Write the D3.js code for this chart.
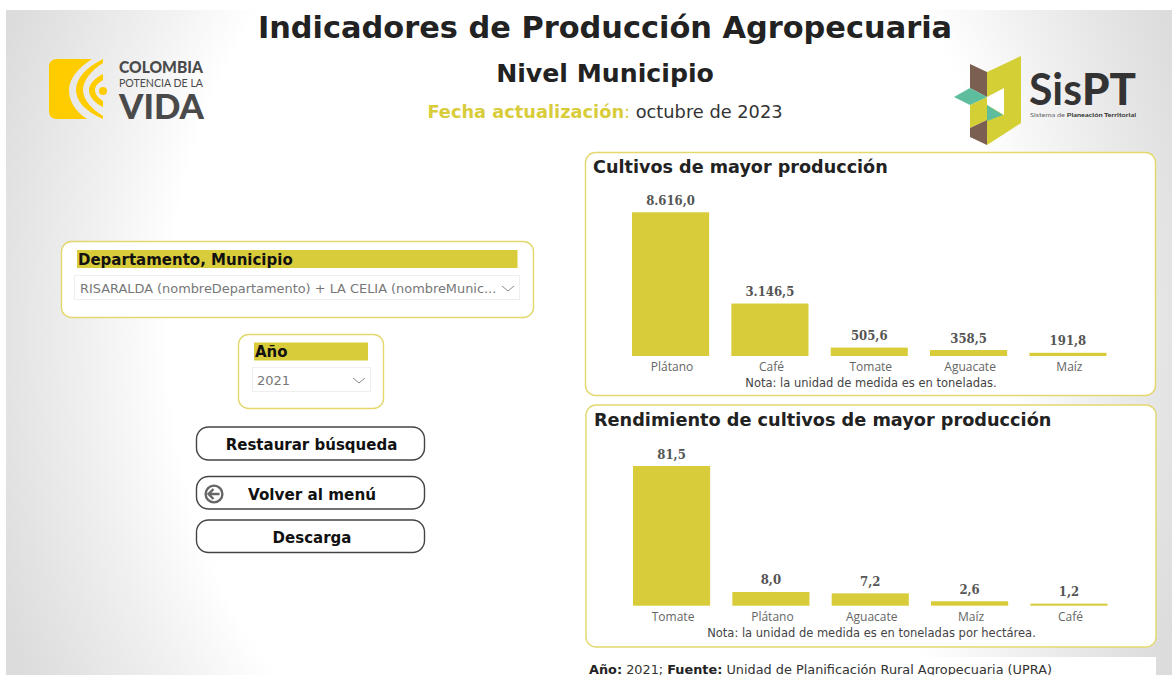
<!DOCTYPE html>
<html><head><meta charset="utf-8">
<script src="https://cdn.jsdelivr.net/npm/d3@7/dist/d3.min.js"></script>
<style>
html,body{margin:0;padding:0;background:#fff;overflow:hidden}
svg{display:block}
text{font-family:"DejaVu Sans",sans-serif}
</style></head><body>
<svg id="c" width="1172" height="675"></svg>
<script>
const prodCategories = ["Plátano","Café","Tomate","Aguacate","Maíz"];
const prodValues = [8616.0,3146.5,505.6,358.5,191.8];
const rendCategories = ["Tomate","Plátano","Aguacate","Maíz","Café"];
const rendValues = [81.5,8.0,7.2,2.6,1.2];

const YEL="#d9cc3a", BORDER="#e3d86e", DARK="#222222";
const svg=d3.select("#c");
const defs=svg.append("defs");
const g=defs.append("radialGradient").attr("id","bg").attr("gradientUnits","userSpaceOnUse")
  .attr("cx",0).attr("cy",0).attr("r",1)
  .attr("gradientTransform","translate(590 330) scale(630 775)");
[[0,"#fff"],[0.667,"#fff"],[0.8,"#f0f0f0"],[0.927,"#e3e3e3"],[1,"#dcdcdc"]].forEach(([o,c])=>g.append("stop").attr("offset",o).attr("stop-color",c));
svg.append("rect").attr("x",6).attr("y",10).attr("width",1166).attr("height",665).attr("fill","url(#bg)");

function txt(x,y,s,size,opt={}){
  return svg.append("text").attr("x",x).attr("y",y).text(s).attr("font-size",size)
   .attr("font-weight",opt.w||"normal").attr("fill",opt.f||DARK).attr("text-anchor",opt.a||"start")
   .style("font-family",opt.fam||null);
}
txt(605,38,"Indicadores de Producción Agropecuaria",30.4,{w:"bold",a:"middle"});
txt(605,82,"Nivel Municipio",25.2,{w:"bold",a:"middle"});
const fecha=svg.append("text").attr("x",605).attr("y",118).attr("text-anchor","middle").attr("font-size",17.8);
fecha.append("tspan").attr("font-weight","bold").attr("fill",YEL).text("Fecha actualización");
fecha.append("tspan").attr("fill",YEL).text(": ");
fecha.append("tspan").attr("fill","#333").text("octubre de 2023");

// Colombia logo
const logo=svg.append("g").attr("fill","#ffcc00");
logo.append("path").attr("d","M57 59H92C78 68 69 79 69 90C69 101 75 111 87 119H57Q49 119 49 111V67Q49 59 57 59Z");
logo.append("path").attr("d","M103 59C85 68 76 79 76 90C76 101 85 111 103 119V116C92 109 83 100 83 90C83 80 92 70 103 63Z");
logo.append("path").attr("d","M103 74C95 78 89 84 89 90C89 97 95 103 103 107V101C98 98 95 94 95 90C95 86 98 83 103 80Z");
logo.append("circle").attr("cx",103).attr("cy",91).attr("r",4);
const LG="#4a4a4a";
txt(119,72.5,"COLOMBIA",16,{w:"900",f:LG,fam:"Lato,sans-serif"}).attr("textLength",84).attr("lengthAdjust","spacingAndGlyphs");
txt(119,87,"POTENCIA DE LA",11.5,{f:LG,fam:"Lato,sans-serif"}).attr("textLength",84).attr("lengthAdjust","spacingAndGlyphs");
txt(119,119,"VIDA",34,{w:"900",f:LG,fam:"Lato,sans-serif"}).attr("textLength",85).attr("lengthAdjust","spacingAndGlyphs");

// SisPT logo
const sp=svg.append("g");
sp.append("path").attr("fill","#d5cf36").attr("d","M987 72L1021 56V123L987 145Z");
sp.append("path").attr("fill","#d5cf36").attr("d","M970 105L987 97V120L970 128Z");
sp.append("path").attr("fill","#fff").attr("d","M987 97L1004 88V115L987 105Z");
sp.append("path").attr("fill","#7b5f50").attr("d","M970 64L987 72V97L970 88Z");
sp.append("path").attr("fill","#7b5f50").attr("d","M970 128L987 120V145L970 137Z");
sp.append("path").attr("fill","#5dbd9d").attr("d","M954 97L970 88L987 97L970 105Z");
sp.append("path").attr("fill","#5dbd9d").attr("d","M987 105L1003 115L987 121Z");
txt(1029,105,"Sis",43,{f:"#333",fam:"Lato,sans-serif",w:"700"}).attr("textLength",53).attr("lengthAdjust","spacingAndGlyphs");
txt(1082,105,"PT",43,{f:"#333",fam:"Lato,sans-serif",w:"900"}).attr("textLength",54).attr("lengthAdjust","spacingAndGlyphs");
const s2=svg.append("text").attr("x",1030).attr("y",116.5).attr("font-size",6.2).attr("fill","#666").attr("textLength",106).attr("lengthAdjust","spacingAndGlyphs").style("font-family","Lato,sans-serif");
s2.append("tspan").text("Sistema de ");
s2.append("tspan").attr("font-weight","bold").attr("fill","#333").text("Planeación Territorial");

function card(x,y,w,h,stroke=BORDER,r=10){
  return svg.append("rect").attr("x",x+.5).attr("y",y+.5).attr("width",w).attr("height",h).attr("rx",r).attr("fill","#fff").attr("stroke",stroke).attr("stroke-width",1.4);
}
function chevron(x,y){
  svg.append("path").attr("d",`M${x} ${y}l6 5l6 -5`).attr("fill","none").attr("stroke","#8a8a8a").attr("stroke-width",1);
}
// slicers
card(61,241,472,76);
svg.append("rect").attr("x",77).attr("y",250).attr("width",440.5).attr("height",18).attr("fill",YEL);
txt(78,265,"Departamento, Municipio",15,{w:"bold",f:"#111"});
svg.append("rect").attr("x",74.5).attr("y",275.5).attr("width",445).attr("height",24).attr("fill","#fff").attr("stroke","#efefef");
txt(80,293,"RISARALDA (nombreDepartamento) + LA CELIA (nombreMunic...",12.9,{f:"#777"});
chevron(502,286);

card(238,334,145,74);
svg.append("rect").attr("x",254).attr("y",342.5).attr("width",114).attr("height",18).attr("fill",YEL);
txt(255,357,"Año",15,{w:"bold",f:"#111"});
svg.append("rect").attr("x",252.5).attr("y",367.5).attr("width",118).attr("height",24).attr("fill","#fff").attr("stroke","#efefef");
txt(257,385,"2021",13,{f:"#777"});
chevron(353,378);

// buttons
card(196,426.5,228,33,"#444",12);
txt(311.5,450,"Restaurar búsqueda",15,{w:"bold",a:"middle",f:"#111"});
card(196,476,228,32.5,"#444",12);
txt(312,500,"Volver al menú",15.2,{w:"bold",a:"middle",f:"#111"});
svg.append("circle").attr("cx",214).attr("cy",494).attr("r",8.4).attr("fill","none").attr("stroke","#666").attr("stroke-width",2.4);
svg.append("path").attr("d","M219.5 494H209M213.5 489L208.5 494L213.5 499").attr("fill","none").attr("stroke","#666").attr("stroke-width",2.4);
card(196,519.5,228,32.5,"#444",12);
txt(312,543,"Descarga",15,{w:"bold",a:"middle",f:"#111"});

// chart cards
function chart(o){
  card(o.x,o.y,o.w,o.h);
  txt(o.titleX,o.titleY,o.title,o.titleSize,{w:"bold"});
  const x=d3.scaleBand().domain(o.cats).range(o.xr).paddingInner(0.2236).paddingOuter(0);
  const y=d3.scaleLinear().domain([0,o.max]).range([o.base,o.top]);
  const G=svg.append("g");
  G.selectAll("rect").data(o.vals).join("rect").attr("x",(d,i)=>x(o.cats[i])).attr("width",x.bandwidth())
    .attr("y",d=>y(d)).attr("height",d=>o.base-y(d)).attr("fill",YEL);
  G.selectAll("text.v").data(o.vals).join("text").attr("class","v")
    .attr("x",(d,i)=>x(o.cats[i])+x.bandwidth()/2).attr("y",d=>y(d)-7.5).attr("text-anchor","middle")
    .attr("font-size",13).attr("font-weight","bold").attr("fill","#555")
    .style("font-family","'DejaVu Serif Condensed','DejaVu Serif',serif").text(o.fmt);
  const ax=d3.axisBottom(x).tickSize(0).tickPadding(0);
  const A=svg.append("g").attr("transform",`translate(1.5,${o.base+15})`).call(ax);
  A.select(".domain").remove();
  A.selectAll("text").attr("y",0).attr("dy",0).attr("font-size",12).attr("fill","#666").style("font-family","'Open Sans',sans-serif");
  txt(o.noteX,o.noteY,o.note,11.5,{a:"middle",f:"#444"});
}
const es=d3.formatLocale({decimal:",",thousands:".",grouping:[3],currency:["","$"]}).format(",.1f");
chart({x:585,y:152,w:570,h:243,title:"Cultivos de mayor producción",titleX:593,titleY:173,titleSize:17.6,
  cats:prodCategories,vals:prodValues,xr:[632,1106.5],base:356,top:212.3,max:8616,fmt:es,
  note:"Nota: la unidad de medida es en toneladas.",noteX:871,noteY:387});
chart({x:585.5,y:404.5,w:570,h:242,title:"Rendimiento de cultivos de mayor producción",titleX:594,titleY:426,titleSize:17.7,
  cats:rendCategories,vals:rendValues,xr:[633,1107.5],base:605.7,top:466,max:81.5,fmt:es,
  note:"Nota: la unidad de medida es en toneladas por hectárea.",noteX:871.5,noteY:637});

// footer
svg.append("rect").attr("x",585).attr("y",657).attr("width",571).attr("height",18).attr("fill","#fff");
const ft=svg.append("text").attr("x",589).attr("y",673.5).attr("font-size",12.85).attr("fill","#333");
ft.append("tspan").attr("font-weight","bold").attr("fill",DARK).text("Año:");
ft.append("tspan").text(" 2021; ");
ft.append("tspan").attr("font-weight","bold").attr("fill",DARK).text("Fuente:");
ft.append("tspan").text(" Unidad de Planificación Rural Agropecuaria (UPRA)");
</script></body></html>
